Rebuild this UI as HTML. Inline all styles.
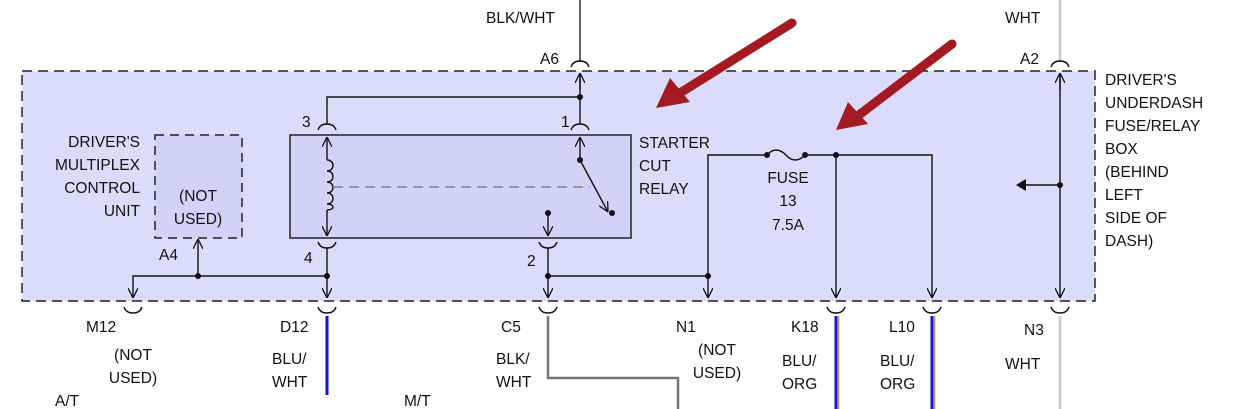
<!DOCTYPE html>
<html><head><style>body{margin:0;background:#fff}svg{display:block}text{font-family:"Liberation Sans",sans-serif;font-size:15.5px;fill:#111}</style></head><body>
<svg width="1245" height="409" viewBox="0 0 1245 409" xmlns="http://www.w3.org/2000/svg">
<defs>
<marker id="ah" viewBox="0 0 10 10" refX="10" refY="5" markerWidth="10" markerHeight="10" orient="auto-start-reverse" markerUnits="userSpaceOnUse"><path d="M0,0 L10,5 L0,10" fill="none" stroke="#111" stroke-width="1.3"/></marker>
</defs>
<rect x="22" y="71" width="1073" height="230" fill="#dcdcfa" stroke="#222" stroke-width="1.5" stroke-dasharray="10,6"/>
<line x1="580" y1="0" x2="580" y2="62" stroke="#666" stroke-width="2"/>
<line x1="1060" y1="0" x2="1060" y2="62" stroke="#ccc" stroke-width="3"/>
<line x1="1060" y1="316" x2="1060" y2="409" stroke="#ccc" stroke-width="3"/>
<rect x="155" y="135" width="87" height="103" fill="#d2d2f8" stroke="#222" stroke-width="1.5" stroke-dasharray="9,6"/>
<rect x="290" y="135" width="341" height="103" fill="#d2d2f8" stroke="#222" stroke-width="1.5"/>
<g fill="none" stroke="#111" stroke-width="1.4">
<path d="M571,67 Q573,61 580,61 Q587,61 589,67"/>
<path d="M318,130 Q320,124 327,124 Q334,124 336,130"/>
<path d="M571,130 Q573,124 580,124 Q587,124 589,130"/>
<path d="M1051,67 Q1053,61 1060,61 Q1067,61 1069,67"/>
<path d="M318,242 Q320,248 327,248 Q334,248 336,242"/>
<path d="M539,242 Q541,248 548,248 Q555,248 557,242"/>
<path d="M124,307 Q126,313 133,313 Q140,313 142,307"/>
<path d="M318,307 Q320,313 327,313 Q334,313 336,307"/>
<path d="M539,307 Q541,313 548,313 Q555,313 557,307"/>
<path d="M827,307 Q829,313 836,313 Q843,313 845,307"/>
<path d="M923,307 Q925,313 932,313 Q939,313 941,307"/>
<path d="M1051,307 Q1053,313 1060,313 Q1067,313 1069,307"/>
<line x1="580" y1="90" x2="580" y2="73" marker-end="url(#ah)"/>
<line x1="580" y1="73" x2="580" y2="124"/>
<polyline points="580,97 327,97 327,124"/>
<line x1="580" y1="160" x2="580" y2="137" marker-end="url(#ah)"/>
<line x1="327" y1="160" x2="327" y2="137" marker-end="url(#ah)"/>
<line x1="327" y1="210" x2="327" y2="236" marker-end="url(#ah)"/>
<path d="M327,160 c8,0 8,11 0,11 c8,0 8,11 0,11 c8,0 8,11 0,11 c8,0 8,11 0,11 c8,0 8,6 0,6"/>
<line x1="333" y1="187" x2="590" y2="187" stroke="#888" stroke-dasharray="10,6"/>
<line x1="580" y1="160" x2="608" y2="212" marker-end="url(#ah)"/>
<line x1="548" y1="213" x2="548" y2="236" marker-end="url(#ah)"/>
<line x1="327" y1="248" x2="327" y2="298" marker-end="url(#ah)"/>
<polyline points="327,276 133,276 133,298" marker-end="url(#ah)"/>
<line x1="198" y1="276" x2="198" y2="239" marker-end="url(#ah)"/>
<line x1="548" y1="248" x2="548" y2="298" marker-end="url(#ah)"/>
<line x1="548" y1="276" x2="708" y2="276"/>
<line x1="708" y1="276" x2="708" y2="298" marker-end="url(#ah)"/>
<polyline points="708,276 708,155 767,155"/>
<path d="M767,155 Q776,145 786,155 Q795,165 805,155"/>
<polyline points="805,155 932,155 932,298" marker-end="url(#ah)"/>
<line x1="836" y1="155" x2="836" y2="298" marker-end="url(#ah)"/>
<line x1="1060" y1="73" x2="1060" y2="298" marker-end="url(#ah)"/>
<line x1="1060" y1="90" x2="1060" y2="73" marker-end="url(#ah)"/>
<line x1="1060" y1="185" x2="1025" y2="185"/>
</g>
<polygon points="1016,185 1026,179 1026,191" fill="#111"/>
<g fill="#111">
<circle cx="580" cy="97" r="3"/><circle cx="580" cy="160" r="3"/><circle cx="612" cy="213" r="3"/><circle cx="548" cy="213" r="3"/>
<circle cx="327" cy="276" r="3"/><circle cx="198" cy="276" r="3"/><circle cx="548" cy="276" r="3"/><circle cx="708" cy="276" r="3"/>
<circle cx="767" cy="155" r="3"/><circle cx="805" cy="155" r="3"/><circle cx="836" cy="155" r="3"/><circle cx="1060" cy="185" r="3"/>
</g>
<line x1="327" y1="316" x2="327" y2="395" stroke="#1010ee" stroke-width="3"/>
<polyline points="548,316 548,378 678,378 678,409" fill="none" stroke="#777" stroke-width="2.5"/>
<line x1="836" y1="316" x2="836" y2="409" stroke="#1010ee" stroke-width="3"/>
<line x1="838.5" y1="316" x2="838.5" y2="409" stroke="#f08020" stroke-width="1.2"/>
<line x1="932" y1="316" x2="932" y2="409" stroke="#1010ee" stroke-width="3"/>
<line x1="934.5" y1="316" x2="934.5" y2="409" stroke="#f08020" stroke-width="1.2"/>
<g stroke="#a41a22" stroke-width="9" stroke-linecap="round" fill="#a41a22">
<line x1="792" y1="23" x2="680" y2="93"/>
<line x1="952" y1="44" x2="855" y2="118"/>
</g>
<polygon points="656,108 670,78 690,102" fill="#a41a22"/>
<polygon points="836,130 848,102 868,124" fill="#a41a22"/>
<text x="486" y="23">BLK/WHT</text>
<text x="540" y="64">A6</text>
<text x="1005" y="23">WHT</text>
<text x="1020" y="64">A2</text>
<text x="302" y="127">3</text>
<text x="561" y="127">1</text>
<g text-anchor="end"><text x="140" y="147">DRIVER'S</text><text x="140" y="170">MULTIPLEX</text><text x="140" y="193">CONTROL</text><text x="140" y="216">UNIT</text></g>
<g text-anchor="middle"><text x="198" y="201">(NOT</text><text x="198" y="224">USED)</text></g>
<text x="159" y="260">A4</text>
<text x="304" y="263">4</text>
<text x="527" y="266">2</text>
<text x="639" y="148">STARTER</text><text x="639" y="171">CUT</text><text x="639" y="194">RELAY</text>
<g text-anchor="middle"><text x="788" y="183">FUSE</text><text x="788" y="206">13</text><text x="788" y="230">7.5A</text></g>
<text x="1105" y="85">DRIVER'S</text><text x="1105" y="108">UNDERDASH</text><text x="1105" y="131">FUSE/RELAY</text><text x="1105" y="154">BOX</text><text x="1105" y="177">(BEHIND</text><text x="1105" y="200">LEFT</text><text x="1105" y="223">SIDE OF</text><text x="1105" y="246">DASH)</text>
<text x="86" y="332">M12</text>
<g text-anchor="middle"><text x="133" y="360">(NOT</text><text x="133" y="383">USED)</text></g>
<text x="55" y="406">A/T</text>
<text x="280" y="332">D12</text>
<text x="272" y="364">BLU/</text><text x="272" y="387">WHT</text>
<text x="404" y="406">M/T</text>
<text x="501" y="332">C5</text>
<text x="496" y="364">BLK/</text><text x="496" y="387">WHT</text>
<text x="676" y="332">N1</text>
<g text-anchor="middle"><text x="717" y="355">(NOT</text><text x="717" y="378">USED)</text></g>
<text x="791" y="332">K18</text>
<text x="782" y="366">BLU/</text><text x="782" y="389">ORG</text>
<text x="889" y="332">L10</text>
<text x="880" y="366">BLU/</text><text x="880" y="389">ORG</text>
<text x="1024" y="335">N3</text>
<text x="1005" y="369">WHT</text>
</svg>
</body></html>
